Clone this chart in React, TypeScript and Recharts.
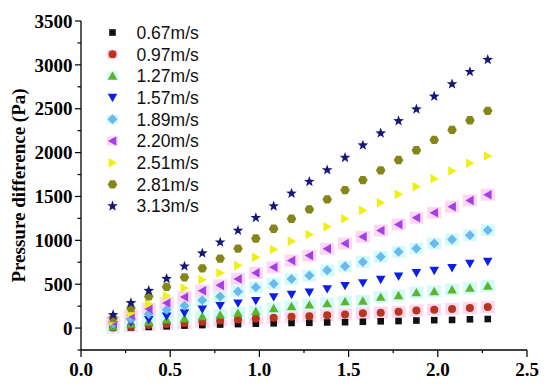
import { ScatterChart, Scatter, XAxis, YAxis } from 'recharts';

// flow velocity (m/s) on the x axis
const xValues = [0.18, 0.28, 0.38, 0.48, 0.58, 0.68, 0.78, 0.88, 0.98, 1.08, 1.18, 1.28, 1.38, 1.48, 1.58, 1.68, 1.78, 1.88, 1.98, 2.08, 2.18, 2.28];

// pressure difference (Pa), one list per series
const v067 = [3, 7, 13, 20, 28, 34, 40, 45, 50, 54, 58, 60, 64, 67, 72, 77, 80, 86, 90, 93, 100, 103];
const v097 = [7, 22, 35, 47, 58, 72, 85, 98, 108, 118, 128, 136, 146, 156, 168, 176, 186, 200, 210, 218, 228, 240];
const v127 = [18, 46, 69, 95, 110, 133, 152, 171, 190, 225, 247, 266, 280, 302, 310, 354, 373, 405, 418, 438, 457, 480];
const v157 = [38, 69, 95, 135, 171, 215, 255, 283, 312, 354, 381, 407, 446, 483, 514, 552, 590, 629, 655, 686, 735, 758];
const v189 = [49, 103, 160, 209, 255, 318, 361, 418, 464, 506, 560, 598, 658, 704, 754, 812, 869, 906, 964, 1009, 1058, 1116];
const v220 = [69, 144, 217, 286, 354, 426, 487, 560, 629, 693, 769, 826, 903, 964, 1040, 1112, 1181, 1257, 1314, 1383, 1455, 1520];
const v251 = [83, 171, 274, 369, 457, 552, 629, 712, 807, 895, 990, 1066, 1154, 1246, 1341, 1429, 1524, 1612, 1703, 1790, 1878, 1961];
const v281 = [114, 229, 361, 469, 578, 681, 792, 906, 1021, 1132, 1246, 1352, 1466, 1573, 1687, 1798, 1916, 2027, 2144, 2259, 2369, 2476];
const v313 = [150, 286, 426, 563, 704, 853, 978, 1112, 1257, 1390, 1535, 1669, 1801, 1943, 2084, 2221, 2361, 2495, 2640, 2781, 2921, 3059];

const seriesNames = ['0.67m/s', '0.97m/s', '1.27m/s', '1.57m/s', '1.89m/s', '2.20m/s', '2.51m/s', '2.81m/s', '3.13m/s'];

const xTicks = [0, 0.25, 0.5, 0.75, 1, 1.25, 1.5, 1.75, 2, 2.25, 2.5];
const yTicks = [-250, 0, 250, 500, 750, 1000, 1250, 1500, 1750, 2000, 2250, 2500, 2750, 3000, 3250, 3500];

const series = [
  { name: seriesNames[0], values: v067, kind: 'square', color: '#111111', halo: null },
  { name: seriesNames[1], values: v097, kind: 'circle', color: '#b8361c', halo: '#ffd6f3' },
  { name: seriesNames[2], values: v127, kind: 'up', color: '#5cb52a', halo: '#d4fbfb' },
  { name: seriesNames[3], values: v157, kind: 'down', color: '#0d1ee6', halo: null },
  { name: seriesNames[4], values: v189, kind: 'diamond', color: '#6ab8f0', halo: '#d4fbfb' },
  { name: seriesNames[5], values: v220, kind: 'left', color: '#a040e6', halo: '#ffd6f3' },
  { name: seriesNames[6], values: v251, kind: 'right', color: '#eef014', halo: null },
  { name: seriesNames[7], values: v281, kind: 'hex', color: '#85861a', halo: null },
  { name: seriesNames[8], values: v313, kind: 'star', color: '#17177a', halo: null },
].map(s => ({ ...s, data: xValues.map((x, i) => ({ x, y: s.values[i] })) }));

const FONT_SERIF = '"Liberation Serif", "Times New Roman", serif';
const FONT_SANS = '"Liberation Sans", Arial, sans-serif';

function pts(list: number[][]) {
  return list.map(p => p.join(',')).join(' ');
}

function Marker({ kind, cx, cy, color }: { kind: string; cx: number; cy: number; color: string }) {
  if (cx == null || cy == null) return null;
  switch (kind) {
    case 'square':
      return <rect x={cx - 3.3} y={cy - 3.3} width={6.6} height={6.6} fill={color} />;
    case 'circle':
      return <circle cx={cx} cy={cy} r={4} fill={color} />;
    case 'up':
      return <polygon points={pts([[cx, cy - 4.6], [cx + 4.8, cy + 3.8], [cx - 4.8, cy + 3.8]])} fill={color} />;
    case 'down':
      return <polygon points={pts([[cx - 4.8, cy - 3.8], [cx + 4.8, cy - 3.8], [cx, cy + 4.6]])} fill={color} />;
    case 'diamond':
      return <polygon points={pts([[cx, cy - 5], [cx + 5, cy], [cx, cy + 5], [cx - 5, cy]])} fill={color} />;
    case 'left':
      return <polygon points={pts([[cx - 4.6, cy], [cx + 3.8, cy - 4.8], [cx + 3.8, cy + 4.8]])} fill={color} />;
    case 'right':
      return <polygon points={pts([[cx + 4.6, cy], [cx - 3.8, cy - 4.8], [cx - 3.8, cy + 4.8]])} fill={color} />;
    case 'hex': {
      const p = [0, 1, 2, 3, 4, 5].map(k => {
        const a = (Math.PI / 3) * k;
        return [cx + 4.8 * Math.cos(a), cy + 4.8 * Math.sin(a)];
      });
      return <polygon points={pts(p)} fill={color} />;
    }
    case 'star': {
      const p = [];
      for (let k = 0; k < 10; k++) {
        const r = k % 2 === 0 ? 5.6 : 2.3;
        const a = -Math.PI / 2 + (Math.PI / 5) * k;
        p.push([cx + r * Math.cos(a), cy + r * Math.sin(a)]);
      }
      return <polygon points={pts(p)} fill={color} />;
    }
    default:
      return null;
  }
}

function Halo({ cx, cy, color }: { cx: number; cy: number; color: string }) {
  if (cx == null || cy == null) return null;
  return <rect x={cx - 7} y={cy - 6} width={14} height={12} fill={color} />;
}

function XTick({ x, y, payload }: any) {
  const v = payload.value;
  const major = Math.abs(v * 2 - Math.round(v * 2)) < 1e-6;
  return (
    <g>
      <line x1={x} x2={x} y1={y} y2={y + (major ? 7 : 3)} stroke="#000" strokeWidth={1.2} />
      {major && (
        <text x={x} y={y + 26} textAnchor="middle" fontFamily={FONT_SERIF} fontWeight="bold" fontSize={19} fill="#000">
          {v.toFixed(1)}
        </text>
      )}
    </g>
  );
}

function YTick({ x, y, payload }: any) {
  const v = payload.value;
  const major = v >= 0 && v % 500 === 0;
  return (
    <g>
      <line x1={x - (major ? 6 : 3.5)} x2={x} y1={y} y2={y} stroke="#000" strokeWidth={1.2} />
      {major && (
        <text x={x - 8.5} y={y} dy="0.35em" textAnchor="end" fontFamily={FONT_SERIF} fontWeight="bold" fontSize={19} fill="#000">
          {v}
        </text>
      )}
    </g>
  );
}

function YTitle({ viewBox }: any) {
  const cx = 18;
  const cy = viewBox ? viewBox.y + viewBox.height / 2 : 185;
  return (
    <text
      x={cx}
      y={cy}
      transform={`rotate(-90 ${cx} ${cy})`}
      textAnchor="middle"
      dominantBaseline="central"
      fontFamily={FONT_SERIF}
      fontWeight="bold"
      fontSize={19}
      fill="#000"
    >
      Pressure difference (Pa)
    </text>
  );
}

function LegendBlock() {
  return (
    <g>
      {series.map((s, i) => {
        const cy = 32.5 + i * 21.7;
        return (
          <g key={s.name}>
            {s.halo && <rect x={107} y={cy - 4.5} width={11} height={9} fill={s.halo} />}
            <Marker kind={s.kind} cx={112.5} cy={cy} color={s.color} />
            <text x={136.5} y={cy} dy="0.36em" fontFamily={FONT_SANS} fontSize={17.5} fill="#111">
              {s.name}
            </text>
          </g>
        );
      })}
    </g>
  );
}

export default function App() {
  return (
    <div style={{ position: 'absolute', left: 0, top: 0, width: 550, height: 390, background: '#fff' }}>
      <ScatterChart width={550} height={390} margin={{ top: 21, right: 23, bottom: 10, left: 0 }}>
        <XAxis
          type="number"
          dataKey="x"
          domain={[0, 2.5]}
          ticks={xTicks}
          height={30}
          tickSize={0}
          tickMargin={0}
          tickLine={false}
          axisLine={{ stroke: '#000', strokeWidth: 1.3 }}
          tick={<XTick />}
          interval={0}
        />
        <YAxis
          type="number"
          dataKey="y"
          domain={[-250, 3500]}
          ticks={yTicks}
          width={81}
          tickSize={0}
          tickMargin={0}
          tickLine={false}
          axisLine={{ stroke: '#000', strokeWidth: 1.3 }}
          tick={<YTick />}
          interval={0}
          label={<YTitle />}
        />
        {series.filter(s => s.halo).map(s => (
          <Scatter
            key={'halo-' + s.name}
            data={s.data}
            isAnimationActive={false}
            legendType="none"
            shape={(p: any) => <Halo cx={p.cx} cy={p.cy} color={s.halo as string} />}
          />
        ))}
        {series.map(s => (
          <Scatter
            key={s.name}
            name={s.name}
            data={s.data}
            isAnimationActive={false}
            shape={(p: any) => <Marker kind={s.kind} cx={p.cx} cy={p.cy} color={s.color} />}
          />
        ))}
        <LegendBlock />
      </ScatterChart>
    </div>
  );
}
